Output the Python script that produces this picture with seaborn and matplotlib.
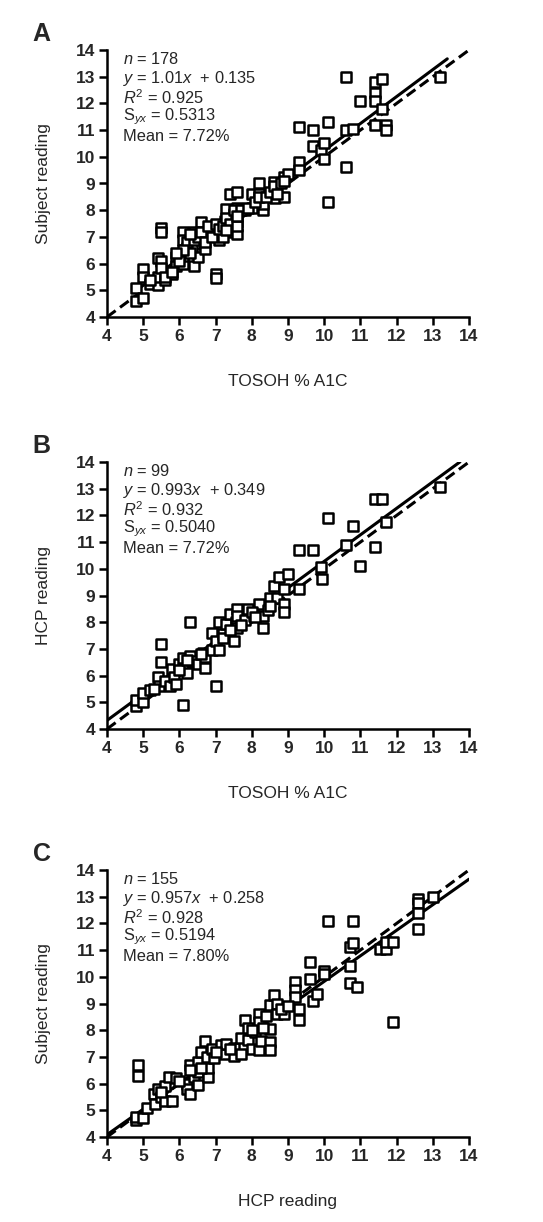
import matplotlib
matplotlib.use("Agg")
import matplotlib.pyplot as plt
from matplotlib import font_manager
import seaborn as sns
import pandas as pd

sns.set_theme(style="ticks")
plt.rcParams['font.family'] = ['Liberation Sans', 'DejaVu Sans']
plt.rcParams['mathtext.fontset'] = 'custom'
plt.rcParams['mathtext.rm'] = 'Liberation Sans'
plt.rcParams['mathtext.it'] = 'Liberation Sans:italic'
plt.rcParams['mathtext.bf'] = 'Liberation Sans:bold'

installed = {f.name for f in font_manager.fontManager.ttflist}
NARROW = 'Liberation Sans Narrow' in installed
label_family = ['Liberation Sans Narrow', 'Liberation Sans'] if NARROW else ['Liberation Sans']

# ---------------- Panel A: TOSOH vs Subject ----------------
a_x = [4.8, 4.8, 5.0, 5.0, 5.0, 5.2, 5.4, 5.4, 5.4, 5.5, 5.5, 5.5, 5.5, 5.6, 5.8, 5.9, 5.9,
       6.1, 6.1, 6.1, 6.1, 6.2, 6.4, 6.4, 6.35, 6.5, 6.6, 6.7, 6.7, 6.8, 6.9, 7.0, 7.0, 7.1,
       7.2, 7.25, 7.3, 7.4, 7.5, 7.6, 7.6, 7.6, 7.6, 7.5, 7.8, 8.0, 8.0, 8.2, 8.2, 8.3, 8.3,
       8.6, 8.65, 8.65, 8.9, 8.9, 9.0, 9.3, 9.3, 9.3, 9.7, 9.7, 9.9, 10.0, 10.0, 10.1, 10.1,
       10.6, 10.6, 10.6, 10.8, 11.0, 11.4, 11.4, 11.4, 11.4, 11.6, 11.6, 11.7, 11.7, 13.2,
       5.2, 5.6, 5.8, 6.0, 6.0, 6.2, 6.3, 6.4, 6.5, 6.6, 6.7, 6.8, 6.9, 7.0, 7.1, 7.2, 7.3,
       7.4, 7.5, 7.6, 7.7, 7.9, 8.1, 8.2, 8.4, 8.5, 8.6, 8.7, 8.8, 8.9, 7.3, 7.6, 6.3, 6.1, 5.9]
a_y = [4.6, 5.1, 4.7, 5.8, 5.5, 5.25, 5.2, 5.5, 6.2, 7.35, 7.2, 6.1, 5.85, 5.4, 5.6, 6.25, 5.9,
       6.0, 6.3, 7.2, 6.9, 6.6, 5.9, 7.2, 6.55, 6.25, 7.55, 6.55, 7.0, 7.1, 7.3, 5.6, 5.45, 6.9,
       7.0, 7.6, 8.05, 8.6, 7.2, 8.7, 8.1, 7.55, 7.1, 7.85, 8.0, 8.6, 8.1, 9.0, 8.6, 8.0, 8.25,
       9.05, 8.45, 8.8, 8.5, 9.25, 9.35, 9.8, 9.5, 11.1, 11.0, 10.4, 10.25, 10.5, 9.9, 11.3, 8.3,
       13.0, 11.0, 9.6, 11.05, 12.1, 12.8, 12.4, 12.1, 11.2, 12.9, 11.8, 11.2, 11.0, 13.0,
       5.4, 5.5, 5.7, 6.3, 6.1, 6.8, 6.4, 6.9, 7.0, 7.2, 6.8, 7.4, 7.0, 7.5, 7.3, 7.4, 7.7,
       7.5, 8.0, 7.4, 8.0, 8.1, 8.3, 8.5, 8.5, 8.7, 8.9, 8.6, 9.0, 9.1, 7.25, 7.8, 7.1, 6.5, 6.4]

# ---------------- Panel B: TOSOH vs HCP ----------------
b_x = [4.8, 4.8, 5.0, 5.0, 5.2, 5.4, 5.45, 5.5, 5.5, 5.6, 5.75, 5.8, 5.85, 5.9, 6.0, 6.1, 6.1,
       6.1, 6.2, 6.3, 6.3, 6.35, 6.5, 6.65, 6.7, 6.7, 6.9, 6.9, 7.0, 7.0, 7.1, 7.1, 7.2, 7.3,
       7.4, 7.5, 7.55, 7.6, 7.6, 7.6, 7.8, 7.9, 8.05, 8.2, 8.3, 8.3, 8.45, 8.5, 8.6, 8.7, 8.75,
       8.9, 8.9, 8.9, 9.0, 9.3, 9.3, 9.7, 9.9, 9.95, 10.1, 10.6, 10.8, 11.0, 11.4, 11.6, 11.4,
       11.7, 13.2,
       5.3, 6.0, 6.2, 6.6, 7.2, 7.4, 7.7, 8.0, 8.1, 8.5]
b_y = [4.85, 5.1, 5.0, 5.35, 5.45, 5.95, 5.6, 6.5, 7.2, 5.8, 5.6, 6.25, 5.95, 5.7, 6.45, 6.65, 6.25,
       4.9, 6.1, 8.0, 6.75, 6.55, 6.45, 6.85, 6.3, 6.7, 7.6, 6.95, 5.6, 7.3, 8.0, 6.95, 7.55, 7.95,
       8.3, 7.3, 8.0, 8.5, 8.25, 7.8, 8.1, 8.5, 8.25, 8.7, 8.25, 7.8, 8.45, 8.9, 9.35, 8.9, 9.7,
       9.25, 8.7, 8.4, 9.8, 9.25, 10.7, 10.7, 10.05, 9.6, 11.9, 10.9, 11.6, 10.1, 12.6, 12.6, 10.8,
       11.75, 13.05,
       5.5, 6.2, 6.6, 6.8, 7.4, 7.7, 7.9, 8.4, 8.2, 8.6]

# ---------------- Panel C: HCP vs Subject ----------------
c_x = [4.8, 4.8, 5.0, 4.87, 4.87, 5.1, 5.3, 5.33, 5.4, 5.5, 5.6, 5.6, 5.7, 5.8, 5.9, 6.2, 6.2,
       6.3, 6.3, 6.4, 6.5, 6.5, 6.5, 6.6, 6.7, 6.75, 6.8, 6.8, 6.9, 6.95, 7.15, 7.25, 7.3, 7.5,
       7.5, 7.7, 7.7, 7.8, 7.9, 7.9, 8.0, 8.1, 8.2, 8.2, 8.2, 8.25, 8.4, 8.5, 8.5, 8.5, 8.5,
       8.6, 8.7, 8.7, 8.9, 9.2, 9.2, 9.2, 9.3, 9.3, 9.6, 9.6, 9.7, 9.8, 10.0, 10.0, 10.1,
       10.7, 10.7, 10.7, 10.8, 10.8, 10.9, 11.55, 11.7, 11.7, 11.9, 11.9, 12.6, 12.6, 12.6,
       12.6, 13.0,
       5.5, 6.0, 6.3, 6.6, 7.0, 7.4, 8.0, 8.3, 8.8, 9.0]
c_y = [4.62, 4.75, 4.7, 6.7, 6.3, 5.1, 5.6, 5.25, 5.8, 5.5, 5.35, 5.9, 6.25, 5.35, 6.2, 6.0, 5.8,
       5.6, 6.7, 6.25, 5.95, 6.8, 6.45, 7.2, 7.6, 7.0, 6.25, 6.6, 7.3, 6.95, 7.45, 7.1, 7.5, 7.05,
       7.35, 7.1, 7.7, 8.4, 8.1, 7.65, 7.3, 7.95, 8.6, 8.3, 7.25, 7.6, 8.55, 8.05, 7.55, 7.25, 8.95,
       9.3, 9.0, 8.6, 8.6, 9.8, 9.5, 9.25, 8.8, 8.4, 10.55, 9.9, 9.1, 9.35, 10.2, 10.1, 12.1,
       11.1, 10.4, 9.75, 12.1, 11.25, 9.6, 11.05, 11.05, 11.3, 11.3, 8.3, 12.9, 12.75, 12.4,
       11.8, 13.0,
       5.7, 6.1, 6.5, 6.6, 7.2, 7.3, 8.0, 8.1, 8.8, 8.9]

# regression fits (slope, intercept) and x-range of the fitted line
fit_slope = [1.01, 0.993, 0.957]
fit_icpt = [0.135, 0.349, 0.258]
fit_xrange = [(4.8, 13.4), (4.0, 13.75), (4.0, 14.0)]

panel_letters = ["A", "B", "C"]
x_labels = ["TOSOH % A1C", "TOSOH % A1C", "HCP reading"]
y_labels = ["Subject reading", "HCP reading", "Subject reading"]
stats_text = [
    ["$n$ = 178", "$y$ = 1.01$x$  + 0.135", r"$R^{\mathrm{2}}$ = 0.925", r"S$_{yx}$ = 0.5313", "Mean = 7.72%"],
    ["$n$ = 99", "$y$ = 0.993$x$  + 0.349", r"$R^{\mathrm{2}}$ = 0.932", r"S$_{yx}$ = 0.5040", "Mean = 7.72%"],
    ["$n$ = 155", "$y$ = 0.957$x$  + 0.258", r"$R^{\mathrm{2}}$ = 0.928", r"S$_{yx}$ = 0.5194", "Mean = 7.80%"],
]
ticks = list(range(4, 15))

W, H = 543, 1222
fig = plt.figure(figsize=(W / 100, H / 100), dpi=100)
fig.patch.set_facecolor("white")

# axes boxes in pixels: left, right, top, bottom
boxes = [(107, 469, 50, 317), (107, 469, 462, 729), (107, 469, 870, 1137)]
data = [(a_x, a_y), (b_x, b_y), (c_x, c_y)]

tick_size = 13.5 if NARROW else 12.5
lab_size = 15 if NARROW else 12.5

for i, (l, r, t, b) in enumerate(boxes):
    ax = fig.add_axes([l / W, 1 - b / H, (r - l) / W, (b - t) / H])
    ax.set_facecolor("white")
    xs, ys = data[i]
    df = pd.DataFrame({"x": xs, "y": ys})

    ident = pd.DataFrame({"x": [4, 14], "y": [4, 14]})
    sns.lineplot(data=ident, x="x", y="y", ax=ax, color="black", lw=2.2,
                 linestyle=(0, (3.5, 1.8)), zorder=2)
    x0, x1 = fit_xrange[i]
    reg = pd.DataFrame({"x": [x0, x1],
                        "y": [fit_slope[i] * x0 + fit_icpt[i], fit_slope[i] * x1 + fit_icpt[i]]})
    sns.lineplot(data=reg, x="x", y="y", ax=ax, color="black", lw=2.2, zorder=2)

    sns.scatterplot(data=df, x="x", y="y", ax=ax, marker="s", s=56,
                    facecolor="white", edgecolor="black", linewidth=1.8, zorder=3,
                    clip_on=False)

    ax.set_xlim(4, 14)
    ax.set_ylim(4, 14)
    ax.set_xticks(ticks)
    ax.set_yticks(ticks)
    for sp in ["top", "right"]:
        ax.spines[sp].set_visible(False)
    for sp in ["left", "bottom"]:
        ax.spines[sp].set_linewidth(1.8)
        ax.spines[sp].set_color("black")
    ax.tick_params(axis="both", direction="out", length=5.5, width=1.8, color="black", pad=3)
    for lab in ax.get_xticklabels() + ax.get_yticklabels():
        lab.set_fontweight("bold")
        lab.set_family(label_family)
        lab.set_fontsize(tick_size)
    ax.set_xlabel(x_labels[i], fontsize=lab_size, labelpad=22, family=label_family)
    ax.set_ylabel(y_labels[i], fontsize=lab_size, labelpad=18, family=label_family)

    ys_txt = [0.968, 0.895, 0.822, 0.749, 0.677]
    for s, yy in zip(stats_text[i], ys_txt):
        ax.text(0.045, yy, s, transform=ax.transAxes, fontsize=11.8, va="center", ha="left")

    ax.text(-0.18, 1.06, panel_letters[i], transform=ax.transAxes, fontsize=18,
            fontweight="bold", va="center", ha="center")

fig.savefig("out.png", dpi=100, facecolor="white")
